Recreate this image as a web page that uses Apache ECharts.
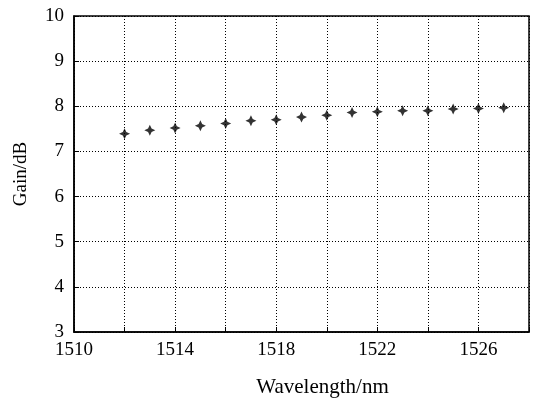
<!DOCTYPE html>
<html><head><meta charset="utf-8">
<script src="https://cdn.jsdelivr.net/npm/echarts@6/dist/echarts.min.js"></script>
<style>html,body{margin:0;padding:0;background:#fff}#c{width:537px;height:400px}</style>
</head><body><div id="c"></div>
<script>
const wavelengths = [1512,1513,1514,1515,1516,1517,1518,1519,1520,1521,1522,1523,1524,1525,1526,1527];
const gains = [7.39,7.47,7.52,7.57,7.62,7.68,7.70,7.76,7.80,7.86,7.88,7.90,7.90,7.94,7.95,7.97];
const xTickLabels = [1510,1514,1518,1522,1526];
const yTickLabels = [3,4,5,6,7,8,9,10];

const data = wavelengths.map((w,i)=>[w,gains[i]]);
const font = 'Liberation Serif';
const chart = echarts.init(document.getElementById('c'));
chart.setOption({
  animation:false,
  backgroundColor:'#fff',
  grid:{left:74,right:8,top:16,bottom:68,show:true,borderColor:'#000',borderWidth:1.5,backgroundColor:'transparent',
    outerBoundsMode:'none',containLabel:false},
  xAxis:{type:'value',min:1510,max:1528,interval:2,
    name:'Wavelength/nm',nameLocation:'middle',nameGap:45,
    nameTextStyle:{fontFamily:font,fontSize:21,color:'#000',padding:[0,0,0,42]},
    axisLine:{show:true,lineStyle:{color:'#000',width:1.5}},
    axisTick:{show:true,inside:true,length:5,lineStyle:{color:'#000'}},
    splitLine:{show:true,lineStyle:{color:'#000',type:[1,2],width:1}},
    axisLabel:{fontFamily:font,fontSize:19,color:'#000',margin:9,
      formatter:v=>xTickLabels.includes(v)?String(v):''}},
  yAxis:{type:'value',min:3,max:10,interval:1,
    name:'Gain/dB',nameLocation:'middle',nameGap:43,nameRotate:90,
    nameTextStyle:{fontFamily:font,fontSize:19,color:'#000'},
    axisLine:{show:true,lineStyle:{color:'#000',width:1.5}},
    axisTick:{show:true,inside:true,length:5,lineStyle:{color:'#000'}},
    splitLine:{show:true,lineStyle:{color:'#000',type:[1,2],width:1}},
    axisLabel:{fontFamily:font,fontSize:19,color:'#000',margin:10,
      formatter:v=>yTickLabels.includes(v)?String(v):''}},
  series:[{type:'scatter',data:data,
    symbol:'path://M5,0 L6.6,3.4 L10,5 L6.6,6.6 L5,10 L3.4,6.6 L0,5 L3.4,3.4 Z',
    symbolSize:11,itemStyle:{color:'#000'}}]
});
</script></body></html>
